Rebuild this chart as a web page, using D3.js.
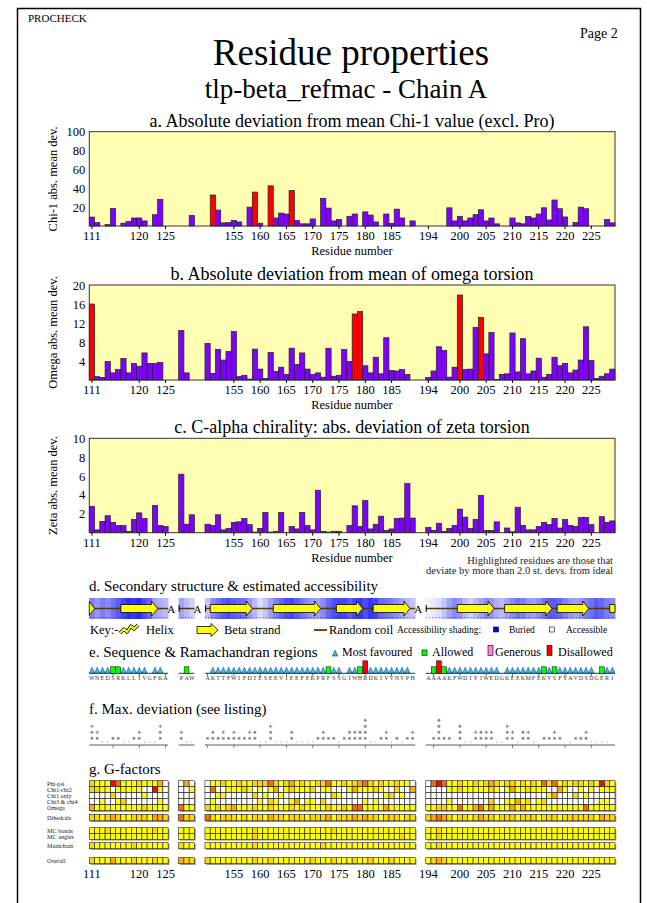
<!DOCTYPE html>
<html><head><meta charset="utf-8">
<script src="https://cdn.jsdelivr.net/npm/d3@7"></script>
<style>body{margin:0;background:#fff}svg{display:block}</style>
</head><body><svg id="c" width="647" height="903"></svg>
<script>
// ---------------- DATA ----------------
const seg1Ids = ["111","112","113","114","115","116","117","118","119","120","121","122","123","124","125"];
const seg2Ids = ["p1","p2","p3"]; // short unnumbered fragment (PAW)
const seg3Ids = ["150","151","152","153","154","155","156","157","158","159","160","161","162","163","164","165","166","167","168","169","170","171","172","173","174","175","176","177","178","179","180","181","182","183","184","185","186","187","188","189"];
const seg4Ids = ["194","195","196","197","198","199","200","201","202","203","204","205","206","207","208","209","210","211","212","213","214","215","216","217","218","219","220","221","222","223","224","225","226","227","228","229"];
const sequences = ["WNEDSRKLLIVGFKA","PAW","AKTTFWIFDTESEEVIEEFEKPRFSSGIWHRDKIVVNVPH","AAAAKFWDIYIWEDGKEEKMFEKVSFYAVDSDGERI"];
const tickLabels = ["111","120","125","155","160","165","170","175","180","185","194","200","205","210","215","220","225"];
const minorTickIds = ["115","120","125","150","155","160","165","170","175","180","185","195","200","205","210","215","220","225"];

const chi1Dev = [9.5,3.6,0,1.5,18.6,0,3,4.7,8.5,8.5,5.4,0,12,28.3,0,
 0,0,11.3,
 0,32.9,16.9,3.3,3.6,6,4.3,0,20,36, 3,0,42.6,8.5,13.7,12.7,37.7,6,2.3,2.3, 7.5,0,29.4,19,5.4,6.8,0,10.3,12.7,0, 15,11.6,4.3,0,12.7,2.9,17.9,8.5,0,5.4,
 0,0,0,0,19.3,5.4,10.3,5.4,8.5,12, 17.2,5.4,8.5,2.3,0,0,8.5,3.3,2.3,10.3, 8.5,12.7,19.3,6.4,27.6,18.3,9.6,0,3.6,20, 18.3,0,0,0,6.8,3.3];
const chi1Highlight = ["151","159","162","166"];

const omegaDev = [16,0.7,0.56,3.9,1.5,2.2,4.5,1.5,3.5,2.9,5.7,3.5,3.5,3.7,0,
 10.4,1.5,0,
 7.7,1.4,6.4,4.2,6,10.2,0.7,1,0.2,6.5, 2.3,0.35,5.8,1.8,2.7,1.2,6.7,3.3,5.7,2.3, 1.2,1.5,0.6,6.7,0.8,1,6.4,3.9,13.9,14.4, 3,1.5,4.8,1.3,8.9,2,1.9,2.2,1.2,0,
 0.5,1.9,7,6.2,0.6,2.7,17.9,2.2,2.3,11.1, 13.2,5.5,10,0.1,1.2,1.3,9.9,1.7,8.7,1.3, 1.9,4.6,0.6,1.2,4.8,3,3.5,1.5,2.1,4.2, 11.2,4.1,0.35,0.8,1.3,2.3];
const omegaHighlight = ["111","178","179","200","204"];

const zetaDev = [2.8,0.3,1.2,1.8,1.1,0.75,0.75,0.15,1.4,2.1,1.5,0,2.9,0.75,0.67,
 6.2,0.9,1.9,
 0.9,0.75,1.9,0.3,0.45,1.1,1.15,1.5,0.85,0.07, 0.45,2.15,0.07,0.15,2.15,0,0.67,0.4,2.15,0.75, 0.3,4.5,0.15,0.07,0.15,0.15,0,0.75,2.85,0.67, 3.4,0.4,0.9,1.75,0.25,0.4,1.5,1.55,5.2,1.55,
 0.56,0.25,1.0,0.15,0.45,0.77,2.5,1.65,0.45,1.4, 3.95,0.25,0.25,1.15,0,0.5,0.1,2.7,0.77,0.3, 0.3,0.67,1.1,0.85,1.5,0.5,1.4,0.77,0.67,1.6, 1.6,0.85,0,1.7,1.1,1.25];
const zetaHighlight = [];

// accessibility: 0 = buried, 1 = accessible
const accessibility = [0.45,0.55,0.45,0.5,0.4,0.3,0.2,0.1,0.15,0.1,0.25,0.35,0.6,0.65,0.7,
 0.6,0.7,0.8,
 0.75,0.5,0.4,0.3,0.25,0.3,0.35,0.4,0.55,0.7, 0.85,0.75,0.6,0.45,0.35,0.25,0.2,0.3,0.4,0.5, 0.55,0.6,0.5,0.35,0.25,0.2,0.2,0.3,0.2,0.15, 0.25,0.15,0.2,0.35,0.4,0.45,0.5,0.6,0.7,0.75,
 0.95,0.9,0.85,0.75,0.6,0.5,0.55,0.7,0.8,0.7, 0.6,0.5,0.55,0.65,0.7,0.6,0.5,0.4,0.45,0.55, 0.6,0.5,0.4,0.3,0.3,0.35,0.45,0.55,0.6,0.55, 0.45,0.4,0.3,0.35,0.45,0.5];
// beta strands: [first, last, kind]
const strands = [["111","111","tip"],["117","123","arrow"],["151","158","arrow"],["163","171","arrow"],["175","179","arrow"],["182","188","arrow"],["200","206","arrow"],["209","217","arrow"],["219","224","arrow"],["229","229","body"]];

// Ramachandran regions: t most favoured, g allowed, p generous, r disallowed, - none
const ramaRegions = ["ttttggttttt-tt-","-g-","-ttttttttttttttttttttttgtt-ttgrtttttttt-","-grgtttttttttt-tttttttgtgttttttt-gtt"];

// Max. deviation symbols, bottom to top
const maxDev = [
 ["**+","*+",".",".","*","*",".",".","*","*+",".",".",".","**+",""],
 ["*+",".","."],
 ["*","**","*","*+","*","*+","*","*","*+","**",".",".","**+",".",".",".","**",".",".",".",".","*","*+","*","*",".","*","**","**","**","****",".",".","*","*+",".","*",".","*","*+"],
 ["","*","****","*","*","","***",".",".","*+","**","*+","*+",".",".","**+","*+",".","**","*+",".","","*","*","*+","*","",".","*","*","*+",".",".",".",".",""]
];

// G-factors: - none, 0 good ... 4 bad
const gPhiPsi   = ["10004300010002-","-2-","-00100100111310120100113001012310100100-","-34300100101210110101031301011010410"];
const gChi1Chi2 = ["1100-00000--40-","--0","-3--00010-0-02-010001-00---0200010--1--2","----0010000010-02001000--20--0-0-000"];
const gChi1Only = ["----1-----0----","---","--00-----1-0--0---------10--------01-0--","-----------------------02---1-0-----"];
const gChi3Chi4 = ["--0--01------0-","---","-0--------0-10--02-00-1-------0-0-------","----0-------1--00201-01----------00-"];
const gOmega    = ["200000000010000","300","1010120001001000101000010010330000200000","001100300230200020200000000000300000"];
const gDihedral = ["110121001110221","311","3101110101102110111011120111212110111011","123210110121101110111011101111110211"];
const gMCBonds  = ["000100000000100","000","0000000001000000000000001000000000000000","001000000000000000000000000000000000"];
const gMCAngles = ["000000000000000","000","0000000001000000000000000000000000000100","001000000000000000000000000000000000"];
const gMainch   = ["100000001000000","100","0000000001000000000000100000000000000000","001000000000000000000000000000000000"];
const gOverall  = ["100020001000100","211","1000000001001000000010001000100100010000","012100000000000000000000000000000000"];

// ---------------- DRAW ----------------
const FONT = "'Liberation Serif','Times New Roman',serif";
const svg = d3.select("#c");
const segIds = [seg1Ids, seg2Ids, seg3Ids, seg4Ids];
const allIds = [].concat(...segIds);
const slotDomain = [];
segIds.forEach((s,i)=>{ if(i>0) slotDomain.push("gap"+i+"a","gap"+i+"b"); slotDomain.push(...s); });
const X0 = 89.3, X1 = 615;
const x = d3.scaleBand().domain(slotDomain).range([X0, X1]);
const bw = x.bandwidth();
const cx = id => x(id) + bw/2;
const txt = (s, xx, yy, size, anchor="start", extra={}) => {
  const t = svg.append("text").attr("x",xx).attr("y",yy).attr("font-family",FONT).attr("font-size",size).attr("text-anchor",anchor).attr("fill","#000").text(s);
  Object.entries(extra).forEach(([k,v])=>t.attr(k,v));
  return t;
};

// frame
svg.append("path").attr("d","M17.5,903 V8.5 H640.5 V903").attr("fill","none").attr("stroke","#000").attr("stroke-width",1.5);
txt("PROCHECK", 28, 22, 11);
txt("Page 2", 580, 38, 14);
txt("Residue properties", 351, 65, 37, "middle");
txt("tlp-beta_refmac - Chain A", 346, 98, 27, "middle");

function barPanel(cfg){
  const y = d3.scaleLinear().domain([0,cfg.max]).range([cfg.bottom,cfg.top]);
  const g = svg.append("g");
  txt(cfg.title, 352, cfg.top-5, 18, "middle");
  g.append("rect").attr("x",X0).attr("y",cfg.top).attr("width",X1-X0).attr("height",cfg.bottom-cfg.top).attr("fill","#FFFFB4");
  g.selectAll("rect.bar").data(allIds.map((id,i)=>({id,v:cfg.values[i]})).filter(d=>d.v>0)).join("rect")
    .attr("class","bar").attr("x",d=>x(d.id)).attr("width",bw).attr("y",d=>y(d.v)).attr("height",d=>cfg.bottom-y(d.v))
    .attr("fill",d=>cfg.highlight.includes(d.id)?"#FF0000":"#8000FF").attr("stroke","#222").attr("stroke-width",0.7);
  g.append("rect").attr("x",X0).attr("y",cfg.top).attr("width",X1-X0).attr("height",cfg.bottom-cfg.top).attr("fill","none").attr("stroke","#333").attr("stroke-width",1);
  const ya = g.append("g").attr("transform",`translate(${X0},0)`).call(d3.axisLeft(y).tickValues(cfg.ticks).tickSize(0).tickPadding(4));
  ya.select(".domain").remove();
  ya.selectAll("text").attr("font-family",FONT).attr("font-size",12.5).attr("fill","#000");
  const xa = g.append("g").attr("transform",`translate(0,${cfg.bottom})`).call(d3.axisBottom(x).tickValues(tickLabels).tickSize(3).tickPadding(2));
  xa.select(".domain").remove();
  xa.selectAll("line").attr("stroke","#000");
  xa.selectAll("text").attr("font-family",FONT).attr("font-size",12.5).attr("fill","#000");
  txt("Residue number", 352, cfg.bottom+29, 12.5, "middle");
  txt(cfg.ylabel, 0, 0, 12.5, "middle", {transform:`translate(57,${(cfg.top+cfg.bottom)/2}) rotate(-90)`});
}
barPanel({title:"a. Absolute deviation from mean Chi-1 value (excl. Pro)", top:131.7, bottom:226, max:100, ticks:[20,40,60,80,100], values:chi1Dev, highlight:chi1Highlight, ylabel:"Chi-1 abs. mean dev."});
barPanel({title:"b. Absolute deviation from mean of omega torsion", top:285, bottom:380, max:20, ticks:[4,8,12,16,20], values:omegaDev, highlight:omegaHighlight, ylabel:"Omega abs. mean dev."});
barPanel({title:"c. C-alpha chirality: abs. deviation of zeta torsion", top:438.3, bottom:532.7, max:10, ticks:[2,4,6,8,10], values:zetaDev, highlight:zetaHighlight, ylabel:"Zeta abs. mean dev."});
txt("Highlighted residues are those that", 613, 564, 10.5, "end", {fill:"#222"});
txt("deviate by more than 2.0 st. devs. from ideal", 613, 574, 10.5, "end", {fill:"#222"});

// ---- d. secondary structure
txt("d. Secondary structure & estimated accessibility", 89, 591, 15);
const accColor = a => d3.interpolateRgb("#1414f5","#ffffff")(a);
const BY0 = 598, BY1 = 619, MID = 608.5;
allIds.forEach((id,i)=>{
  svg.append("rect").attr("x",x(id)).attr("y",BY0).attr("width",bw+0.4).attr("height",BY1-BY0).attr("fill",accColor(accessibility[i]));
});
segIds.forEach((s,i)=>{
  svg.append("line").attr("x1",x(s[0])).attr("x2",x(s[s.length-1])+bw).attr("y1",617.5).attr("y2",617.5).attr("stroke","#334").attr("stroke-width",0.8).attr("stroke-dasharray","0.8,2.4");
  svg.append("line").attr("x1",x(s[0])).attr("x2",x(s[s.length-1])+bw).attr("y1",MID).attr("y2",MID).attr("stroke","#4a3c00").attr("stroke-width",1.5);
  if(i>0) svg.append("line").attr("x1",x(s[0])+0.5).attr("x2",x(s[0])+0.5).attr("y1",MID-3.5).attr("y2",MID+3.5).attr("stroke","#000").attr("stroke-width",1);
  if(i<3) txt("A", x(s[s.length-1])+bw-1, MID+4, 11);
});
strands.forEach(([a,b,kind])=>{
  const xa = x(a), xb = x(b)+bw, hl = 6;
  let d;
  if(kind==="tip") d = `M${xa},${MID-7} L${xb},${MID} L${xa},${MID+7} Z`;
  else if(kind==="body") d = `M${xa},${MID-4} H${xb} V${MID+4} H${xa} Z`;
  else d = `M${xa},${MID-4} H${xb-hl} V${MID-7.5} L${xb},${MID} L${xb-hl},${MID+7.5} V${MID+4} H${xa} Z`;
  svg.append("path").attr("d",d).attr("fill","#FFFF00").attr("stroke","#000").attr("stroke-width",0.8);
});
// key
txt("Key:-", 90, 634, 12.5);
svg.append("path").attr("d","M120,633 L124,629 L127,632 L131,626 L134,629 L138,625").attr("fill","none").attr("stroke","#000").attr("stroke-width",3.2).attr("stroke-linejoin","round");
svg.append("path").attr("d","M120,633 L124,629 L127,632 L131,626 L134,629 L138,625").attr("fill","none").attr("stroke","#FFFF00").attr("stroke-width",1.8).attr("stroke-linejoin","round");
txt("Helix", 146, 634, 12.5);
svg.append("path").attr("d","M197,626.5 H211 V623.5 L218,630 L211,636.5 V633.5 H197 Z").attr("fill","#FFFF00").attr("stroke","#000").attr("stroke-width",0.8);
txt("Beta strand", 224, 634, 12.5);
svg.append("line").attr("x1",314).attr("x2",327).attr("y1",630).attr("y2",630).attr("stroke","#4a3c00").attr("stroke-width",1.8);
txt("Random coil", 329, 634, 12.5);
txt("Accessibility shading:", 397, 633, 9.5);
svg.append("rect").attr("x",493.5).attr("y",627).attr("width",5).attr("height",5).attr("fill","#0000FF").attr("stroke","#000").attr("stroke-width",0.6);
txt("Buried", 509, 633, 9.5);
svg.append("rect").attr("x",549.5).attr("y",627).attr("width",5).attr("height",5).attr("fill","#FFFFFF").attr("stroke","#000").attr("stroke-width",0.6);
txt("Accessible", 566, 633, 9.5);

// ---- e. sequence & ramachandran
txt("e. Sequence & Ramachandran regions", 89, 657, 15);
const triPath = (c, base) => `M${c-2.7},${base} L${c+2.7},${base} L${c},${base-5.8} Z`;
svg.append("path").attr("d",triPath(335,656)).attr("fill","#38B8F0").attr("stroke","#113").attr("stroke-width",0.5);
txt("Most favoured", 342, 656, 12);
svg.append("rect").attr("x",422).attr("y",650).attr("width",5).attr("height",5.5).attr("fill","#00FF00").attr("stroke","#000").attr("stroke-width",0.6);
txt("Allowed", 432, 656, 12);
svg.append("rect").attr("x",488).attr("y",645.5).attr("width",5).attr("height",10).attr("fill","#FF80E0").attr("stroke","#000").attr("stroke-width",0.6);
txt("Generous", 495, 656, 12);
svg.append("rect").attr("x",547).attr("y",645.5).attr("width",5).attr("height",10).attr("fill","#FF0000").attr("stroke","#000").attr("stroke-width",0.6);
txt("Disallowed", 558, 656, 12);
const EL = 673.3;
segIds.forEach((s,si)=>{
  svg.append("line").attr("x1",x(s[0])).attr("x2",x(s[s.length-1])+bw).attr("y1",EL).attr("y2",EL).attr("stroke","#000").attr("stroke-width",0.8);
  s.forEach((id,k)=>{
    const c = cx(id), r = ramaRegions[si][k];
    if(r==="t") svg.append("path").attr("d",triPath(c,EL-0.3)).attr("fill","#38B8F0").attr("stroke","#113").attr("stroke-width",0.4);
    else if(r==="g") svg.append("rect").attr("x",x(id)+0.2).attr("y",EL-6.5).attr("width",bw-0.4).attr("height",6.5).attr("fill","#00FF00").attr("stroke","#000").attr("stroke-width",0.5);
    else if(r==="p") svg.append("rect").attr("x",x(id)+0.2).attr("y",EL-12.5).attr("width",bw-0.4).attr("height",12.5).attr("fill","#FF80E0").attr("stroke","#000").attr("stroke-width",0.5);
    else if(r==="r") svg.append("rect").attr("x",x(id)+0.2).attr("y",EL-12.5).attr("width",bw-0.4).attr("height",12.5).attr("fill","#FF0000").attr("stroke","#000").attr("stroke-width",0.5);
    txt(sequences[si][k], c, 680, 6, "middle", {fill:"#333"});
    if(minorTickIds.includes(id)) svg.append("line").attr("x1",c).attr("x2",c).attr("y1",EL).attr("y2",EL+3).attr("stroke","#000").attr("stroke-width",0.6);
  });
});

// ---- f. max deviation (symbols drawn as small marks)
txt("f. Max. deviation (see listing)", 89, 714, 15);
const FL = 745;
const starPath = (c,y) => `M${c-1.6},${y} H${c+1.6} M${c-0.9},${y-1.5} L${c+0.9},${y+1.5} M${c+0.9},${y-1.5} L${c-0.9},${y+1.5}`;
const plusPath = (c,y) => `M${c-1.8},${y} H${c+1.8} M${c},${y-1.8} V${y+1.8}`;
segIds.forEach((s,si)=>{
  svg.append("line").attr("x1",x(s[0])).attr("x2",x(s[s.length-1])+bw).attr("y1",FL).attr("y2",FL).attr("stroke","#333").attr("stroke-width",0.8);
  s.forEach((id,k)=>{
    const c = cx(id);
    if(minorTickIds.includes(id)) svg.append("line").attr("x1",c).attr("x2",c).attr("y1",FL).attr("y2",FL+3).attr("stroke","#333").attr("stroke-width",0.6);
    [...maxDev[si][k]].forEach((ch,lev)=>{
      const yy = 738.3 - 6*lev;
      if(ch===".") svg.append("circle").attr("cx",c).attr("cy",742).attr("r",0.55).attr("fill","#777");
      else svg.append("path").attr("d", ch==="*" ? starPath(c,yy) : plusPath(c,yy)).attr("stroke","#666").attr("stroke-width",0.7).attr("fill","none");
    });
  });
});

// ---- g. G-factors
txt("g. G-factors", 89, 774, 15);
const gColor = {"-":"#FFFFFF","0":"#FFFF00","1":"#FFD700","2":"#FFAA00","3":"#FF6A00","4":"#FF0000"};
const gRows = [
  {label:"Phi-psi", top:780.7, h:6, data:gPhiPsi},
  {label:"Chi1-chi2", top:786.7, h:6, data:gChi1Chi2},
  {label:"Chi1 only", top:792.7, h:6, data:gChi1Only},
  {label:"Chi3 & chi4", top:798.7, h:6, data:gChi3Chi4},
  {label:"Omega", top:804.7, h:6, data:gOmega},
  {label:"Dihedrals", top:814.5, h:6.3, data:gDihedral},
  {label:"MC bonds", top:827.7, h:5.8, data:gMCBonds},
  {label:"MC angles", top:833.5, h:5.8, data:gMCAngles},
  {label:"Mainchain", top:842.7, h:6, data:gMainch},
  {label:"Overall", top:857.7, h:6, data:gOverall}
];
const gGroups = [[780.7,810.7],[814.5,820.8],[827.7,839.3],[842.7,848.7],[857.7,863.7]];
segIds.forEach(s=>{
  gGroups.forEach(([a,b])=>{
    svg.append("rect").attr("x",x(s[0])+1.3).attr("y",a+1.3).attr("width",x(s[s.length-1])+bw-x(s[0])).attr("height",b-a).attr("fill","#999");
  });
});
gRows.forEach(row=>{
  txt(row.label, 47, row.top+row.h/2+2.2, 6.2, "start", {fill:"#222"});
  segIds.forEach((s,si)=>{
    s.forEach((id,k)=>{
      svg.append("rect").attr("x",x(id)).attr("y",row.top).attr("width",bw).attr("height",row.h)
        .attr("fill",gColor[row.data[si][k]]).attr("stroke","#222").attr("stroke-width",0.6);
    });
  });
});
const gx = svg.append("g").attr("transform","translate(0,866)").call(d3.axisBottom(x).tickValues(tickLabels).tickSize(0).tickPadding(3));
gx.select(".domain").remove();
gx.selectAll("text").attr("font-family",FONT).attr("font-size",12.5).attr("fill","#000");
</script></body></html>
